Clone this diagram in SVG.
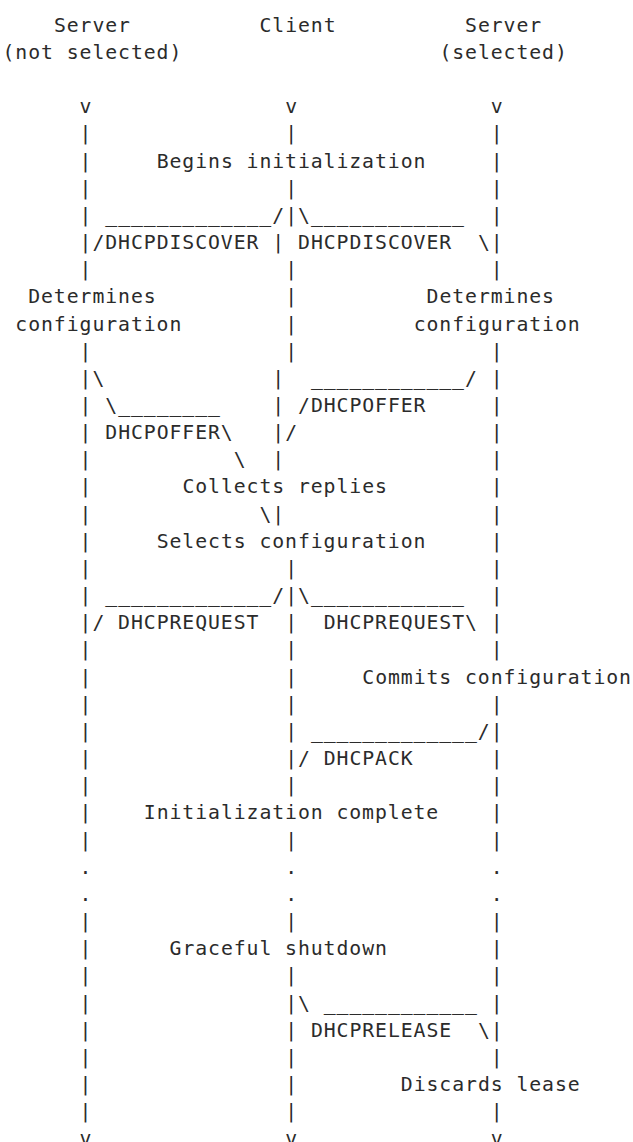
<svg xmlns="http://www.w3.org/2000/svg" width="633" height="1142" viewBox="0 0 633 1142">
<style>
text{font-family:"DejaVu Sans Mono","Liberation Mono",monospace;font-size:19.8px;fill:#2b2b2b;letter-spacing:0.93px;white-space:pre}
</style>
<rect width="633" height="1142" fill="#fff"/>
<g id="node-server-not-selected">
<text x="53.9" y="31.7">Server</text>
<text x="2.5" y="58.9">(not selected)</text>
</g>
<g id="node-client">
<text x="259.5" y="31.7">Client</text>
</g>
<g id="node-server-selected">
<text x="465.1" y="31.7">Server</text>
<text x="439.4" y="58.9">(selected)</text>
</g>
<g id="lifelines">
<text id="lifeline-left"><tspan x="79.6" y="113.2">v</tspan><tspan x="79.6" y="140.3">|</tspan><tspan x="79.6" y="167.5">|</tspan><tspan x="79.6" y="194.7">|</tspan><tspan x="79.6" y="221.8">|</tspan><tspan x="79.6" y="249">|</tspan><tspan x="79.6" y="276.1">|</tspan><tspan x="79.6" y="357.6">|</tspan><tspan x="79.6" y="384.8">|</tspan><tspan x="79.6" y="411.9">|</tspan><tspan x="79.6" y="439.1">|</tspan><tspan x="79.6" y="466.3">|</tspan><tspan x="79.6" y="493.4">|</tspan><tspan x="79.6" y="520.6">|</tspan><tspan x="79.6" y="547.7">|</tspan><tspan x="79.6" y="574.9">|</tspan><tspan x="79.6" y="602.1">|</tspan><tspan x="79.6" y="629.2">|</tspan><tspan x="79.6" y="656.4">|</tspan><tspan x="79.6" y="683.5">|</tspan><tspan x="79.6" y="710.7">|</tspan><tspan x="79.6" y="737.9">|</tspan><tspan x="79.6" y="765">|</tspan><tspan x="79.6" y="792.2">|</tspan><tspan x="79.6" y="819.3">|</tspan><tspan x="79.6" y="846.5">|</tspan><tspan x="79.6" y="873.7">.</tspan><tspan x="79.6" y="900.8">.</tspan><tspan x="79.6" y="928">|</tspan><tspan x="79.6" y="955.1">|</tspan><tspan x="79.6" y="982.3">|</tspan><tspan x="79.6" y="1009.5">|</tspan><tspan x="79.6" y="1036.6">|</tspan><tspan x="79.6" y="1063.8">|</tspan><tspan x="79.6" y="1090.9">|</tspan><tspan x="79.6" y="1118.1">|</tspan><tspan x="79.6" y="1145.3">v</tspan></text>
<text id="lifeline-client"><tspan x="285.2" y="113.2">v</tspan><tspan x="285.2" y="140.3">|</tspan><tspan x="285.2" y="194.7">|</tspan><tspan x="285.2" y="221.8">|</tspan><tspan x="272.35" y="249">|</tspan><tspan x="285.2" y="276.1">|</tspan><tspan x="285.2" y="303.3">|</tspan><tspan x="285.2" y="330.5">|</tspan><tspan x="285.2" y="357.6">|</tspan><tspan x="272.35" y="384.8">|</tspan><tspan x="272.35" y="411.9">|</tspan><tspan x="272.35" y="439.1">|</tspan><tspan x="272.35" y="466.3">|</tspan><tspan x="272.35" y="520.6">|</tspan><tspan x="285.2" y="574.9">|</tspan><tspan x="285.2" y="602.1">|</tspan><tspan x="285.2" y="629.2">|</tspan><tspan x="285.2" y="656.4">|</tspan><tspan x="285.2" y="683.5">|</tspan><tspan x="285.2" y="710.7">|</tspan><tspan x="285.2" y="737.9">|</tspan><tspan x="285.2" y="765">|</tspan><tspan x="285.2" y="792.2">|</tspan><tspan x="285.2" y="846.5">|</tspan><tspan x="285.2" y="873.7">.</tspan><tspan x="285.2" y="900.8">.</tspan><tspan x="285.2" y="928">|</tspan><tspan x="285.2" y="982.3">|</tspan><tspan x="285.2" y="1009.5">|</tspan><tspan x="285.2" y="1036.6">|</tspan><tspan x="285.2" y="1063.8">|</tspan><tspan x="285.2" y="1090.9">|</tspan><tspan x="285.2" y="1118.1">|</tspan><tspan x="285.2" y="1145.3">v</tspan></text>
<text id="lifeline-right"><tspan x="490.8" y="113.2">v</tspan><tspan x="490.8" y="140.3">|</tspan><tspan x="490.8" y="167.5">|</tspan><tspan x="490.8" y="194.7">|</tspan><tspan x="490.8" y="221.8">|</tspan><tspan x="490.8" y="249">|</tspan><tspan x="490.8" y="276.1">|</tspan><tspan x="490.8" y="357.6">|</tspan><tspan x="490.8" y="384.8">|</tspan><tspan x="490.8" y="411.9">|</tspan><tspan x="490.8" y="439.1">|</tspan><tspan x="490.8" y="466.3">|</tspan><tspan x="490.8" y="493.4">|</tspan><tspan x="490.8" y="520.6">|</tspan><tspan x="490.8" y="547.7">|</tspan><tspan x="490.8" y="574.9">|</tspan><tspan x="490.8" y="602.1">|</tspan><tspan x="490.8" y="629.2">|</tspan><tspan x="490.8" y="656.4">|</tspan><tspan x="490.8" y="710.7">|</tspan><tspan x="490.8" y="737.9">|</tspan><tspan x="490.8" y="765">|</tspan><tspan x="490.8" y="792.2">|</tspan><tspan x="490.8" y="819.3">|</tspan><tspan x="490.8" y="846.5">|</tspan><tspan x="490.8" y="873.7">.</tspan><tspan x="490.8" y="900.8">.</tspan><tspan x="490.8" y="928">|</tspan><tspan x="490.8" y="955.1">|</tspan><tspan x="490.8" y="982.3">|</tspan><tspan x="490.8" y="1009.5">|</tspan><tspan x="490.8" y="1036.6">|</tspan><tspan x="490.8" y="1063.8">|</tspan><tspan x="490.8" y="1118.1">|</tspan><tspan x="490.8" y="1145.3">v</tspan></text>
</g>
<g id="events">
<g id="event-begins"><text x="156.7" y="167.5">Begins initialization</text></g>
<g id="event-determines-left"><text x="28.2" y="303.3">Determines</text><text x="15.35" y="330.5">configuration</text></g>
<g id="event-determines-right"><text x="426.55" y="303.3">Determines</text><text x="413.7" y="330.5">configuration</text></g>
<g id="event-collects"><text x="182.4" y="493.4">Collects replies</text></g>
<g id="event-selects"><text x="156.7" y="547.7">Selects configuration</text></g>
<g id="event-commits"><text x="362.3" y="683.5">Commits configuration</text></g>
<g id="event-complete"><text x="143.85" y="819.3">Initialization complete</text></g>
<g id="event-shutdown"><text x="169.55" y="955.1">Graceful shutdown</text></g>
<g id="event-discards"><text x="400.85" y="1090.9">Discards lease</text></g>
</g>
<g id="connectors">
<g id="msg-discover">
<text x="105.3" y="221.8">_____________/</text>
<text x="298.05" y="221.8">\____________</text>
<text x="92.45" y="249">/DHCPDISCOVER</text>
<text x="298.05" y="249">DHCPDISCOVER</text>
<text x="477.95" y="249">\</text>
</g>
<g id="msg-offer">
<text x="92.45" y="384.8">\</text>
<text x="310.9" y="384.8">____________/</text>
<text x="105.3" y="411.9">\________</text>
<text x="298.05" y="411.9">/DHCPOFFER</text>
<text x="105.3" y="439.1">DHCPOFFER\</text>
<text x="285.2" y="439.1">/</text>
<text x="233.8" y="466.3">\</text>
<text x="259.5" y="520.6">\</text>
</g>
<g id="msg-request">
<text x="105.3" y="602.1">_____________/</text>
<text x="298.05" y="602.1">\____________</text>
<text x="92.45" y="629.2">/ DHCPREQUEST</text>
<text x="323.75" y="629.2">DHCPREQUEST\</text>
</g>
<g id="msg-ack">
<text x="310.9" y="737.9">_____________/</text>
<text x="298.05" y="765">/ DHCPACK</text>
</g>
<g id="msg-release">
<text x="298.05" y="1009.5">\ ____________</text>
<text x="310.9" y="1036.6">DHCPRELEASE</text>
<text x="477.95" y="1036.6">\</text>
</g>
</g>
</svg>
